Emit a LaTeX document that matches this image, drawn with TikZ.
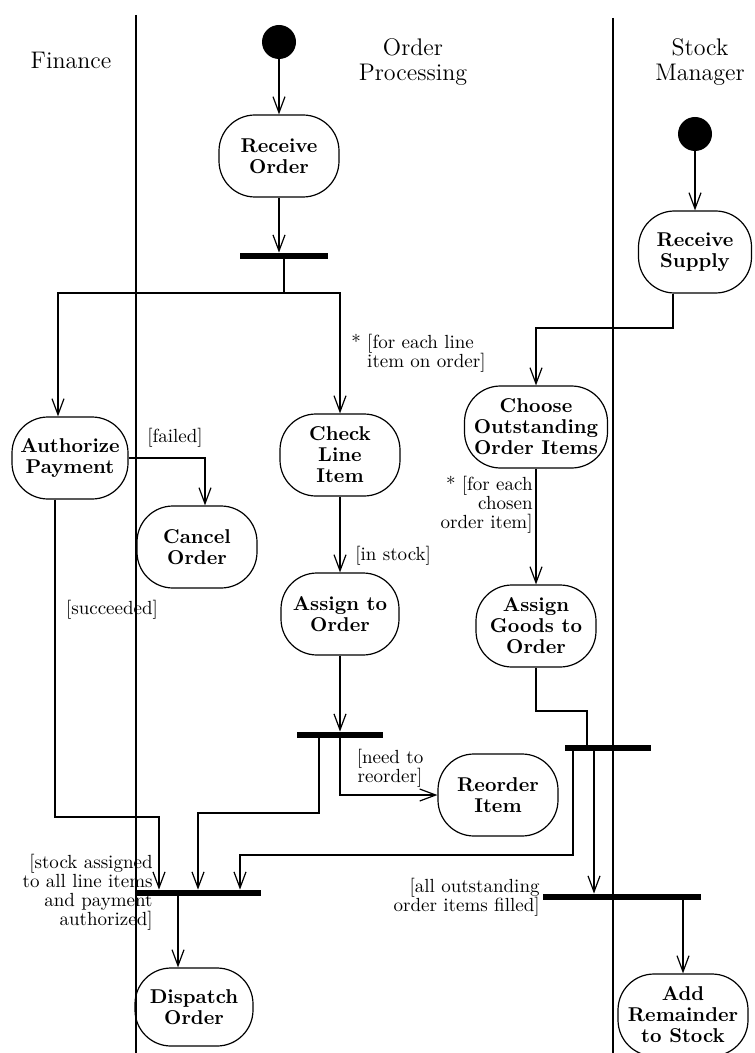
\documentclass[tikz,border=0pt]{standalone}
\usetikzlibrary{arrows.meta}
\begin{document}
\begin{tikzpicture}[x=0.5pt,y=-0.5pt,
    act/.style={draw, line width=0.6pt, rounded corners=18pt, align=center, inner sep=1pt,
      font=\bfseries\fontsize{10}{10.5}\selectfont, minimum width=#1, minimum height=41pt},
    act/.default=60pt,
    syncbar/.style={fill=black, inner sep=0pt, minimum height=3pt, minimum width=#1},
    startdot/.style={circle, fill=black, inner sep=0pt, minimum size=17pt},
    flow/.style={line width=0.6pt, -{Straight Barb[length=8pt,width=6pt]}},
    link/.style={line width=0.6pt},
    guard/.style={inner sep=0pt, font=\fontsize{9.5}{9.5}\selectfont},
    lanehead/.style={align=center, font=\fontsize{12}{12.5}\selectfont},
    lane/.style={line width=0.7pt}
]
\useasboundingbox (0,0) rectangle (754,1053);

\draw[lane] (136,15) -- (136,1053);
\draw[lane] (613,18) -- (613,1053);
\node[lanehead] (finance) at (71,60) {Finance};
\node[lanehead] (orderproc) at (413,62) {Order\\Processing};
\node[lanehead] (stockman) at (700,62) {Stock\\Manager};

\node[startdot] (start1) at (279,42) {};
\node[act=60pt] (recvord) at (279,156) {Receive\\Order};
\node[syncbar=44pt] (fork1) at (284,256) {};
\coordinate (split) at (284,293);
\node[act=58pt] (authpay) at (70,458) {Authorize\\Payment};
\node[act=60pt] (checkitem) at (340,455) {Check\\Line\\Item};
\node[act=60pt] (cancel) at (197,547) {Cancel\\Order};
\node[act=59pt] (assignord) at (340,614) {Assign to\\Order};
\node[syncbar=43pt] (bar2) at (340,735) {};
\node[act=60pt] (reorder) at (498,795) {Reorder\\Item};
\node[syncbar=62pt] (join1) at (199,893) {};
\node[act=59pt, minimum height=39pt] (dispatch) at (194,1007) {Dispatch\\Order};

\node[startdot] (start2) at (695,134) {};
\node[act=56.5pt] (recvsup) at (695,252) {Receive\\Supply};
\coordinate (supply) at (673,328);
\node[act=71.5pt] (choose) at (536,427) {Choose\\Outstanding\\Order Items};
\node[act=60pt] (assigngoods) at (536,626) {Assign\\Goods to\\Order};
\coordinate (goods) at (587,711);
\node[syncbar=43pt] (fork3) at (608,748) {};
\node[syncbar=79pt] (join2) at (622,897) {};
\node[act=65pt] (addrem) at (683,1015) {Add\\Remainder\\to Stock};

\node[guard, anchor=west, align=left] (eachline) at (351,353) {* [for each line\\\hphantom{* }item on order]};
\node[guard, anchor=west] (instock) at (355,556) {[in stock]};
\node[guard] (failed) at (175,438) {[failed]};
\node[guard] (succeeded) at (112,610) {[succeeded]};
\node[guard, anchor=east, align=right] (eachchosen) at (533,505) {* [for each\\chosen\\order item]};
\node[guard, align=center] (needre) at (390,768) {[need to\\reorder]};
\node[guard, anchor=east, align=right] (allassigned) at (153,892) {[stock assigned\\to all line items\\and payment\\authorized]};
\node[guard, anchor=east, align=right] (allfilled) at (540,897) {[all outstanding\\order items filled]};

\draw[flow] (start1) -- (recvord);
\draw[flow] (recvord.south) -- (recvord.south |- fork1.north);
\draw[link] (fork1) -- (split);
\draw[flow] (split) -| ([xshift=-6pt]authpay.north);
\draw[flow] (split) -| (checkitem.north);
\draw[flow] (authpay.east) -| ([xshift=4pt]cancel.north);
\draw[flow] (checkitem) -- (assignord);
\draw[flow] (assignord) -- (bar2);
\draw[flow] (bar2.south) |- (reorder.west);
\coordinate (lineok) at (198,813);
\draw[flow] ([xshift=-10.5pt]bar2.south) |- (lineok) -- (lineok |- join1.north);
\coordinate (succ) at (159,817);
\draw[flow] ([xshift=-7.5pt]authpay.south) |- (succ) -- (succ |- join1.north);
\draw[flow] ([xshift=-10.5pt]join1.south) -- ([xshift=-10.5pt]join1.south |- dispatch.north);

\draw[flow] (start2) -- (recvsup);
\draw[flow] (supply |- recvsup.south) -- (supply) -| (choose.north);
\draw[flow] (choose) -- (assigngoods);
\draw[link] (assigngoods.south) |- (goods) -- (goods |- fork3.north);
\coordinate (fill1) at (240,855);
\draw[flow] ([xshift=-17.5pt]fork3.south) |- (fill1) -- (fill1 |- join1.north);
\draw[flow] ([xshift=-7pt]fork3.south) -- ([xshift=-7pt]fork3.south |- join2.north);
\draw[flow] (addrem.north |- join2.south) -- (addrem.north);
\end{tikzpicture}
\end{document}
